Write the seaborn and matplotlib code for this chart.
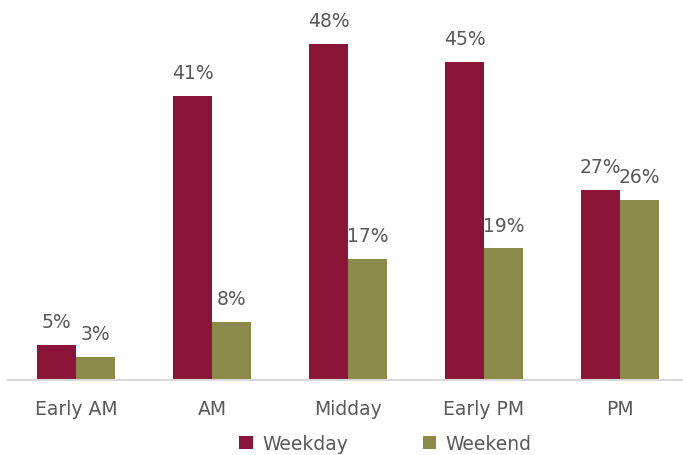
import pandas as pd
import matplotlib.pyplot as plt
import seaborn as sns

# Share of trips by time of day
periods = ["Early AM", "AM", "Midday", "Early PM", "PM"]
weekday = [0.050, 0.406, 0.480, 0.454, 0.271]
weekend = [0.033, 0.083, 0.173, 0.188, 0.257]

df = pd.DataFrame({
    "Period": periods * 2,
    "Share": weekday + weekend,
    "Day": ["Weekday"] * len(periods) + ["Weekend"] * len(periods),
})

sns.set_style("white")
plt.rcParams["font.family"] = ["DejaVu Sans"]
text_color = "#595959"

fig = plt.figure(figsize=(6.83, 4.56), dpi=100)
ax = fig.add_axes([8 / 683, 75 / 456, 680 / 683, 371 / 456])

sns.barplot(data=df, x="Period", y="Share", hue="Day",
            palette=["#8B1538", "#8A8A4A"], width=0.57, saturation=1,
            edgecolor="none", ax=ax)

for c in ax.containers:
    ax.bar_label(c, labels=[f"{round(v * 100)}%" for v in c.datavalues],
                 padding=10, fontsize=13.5, color=text_color)

ax.set_ylim(0, 0.53)
ax.set_xlim(-0.5, 4.5)
ax.set_xlabel("")
ax.set_ylabel("")
ax.set_yticks([])
for s in ["top", "right", "left"]:
    ax.spines[s].set_visible(False)
ax.spines["bottom"].set_color("#d9d9d9")
ax.spines["bottom"].set_linewidth(1.5)
ax.tick_params(axis="x", length=0, pad=14, labelsize=13.5, labelcolor=text_color)

ax.legend(loc="upper center", bbox_to_anchor=(0.555, -0.12), ncol=2, frameon=False,
          fontsize=13.5, handlelength=0.7, handleheight=0.7, columnspacing=4.0,
          handletextpad=0.5, labelcolor=text_color, borderpad=0)

fig.savefig("out.png", dpi=100)
